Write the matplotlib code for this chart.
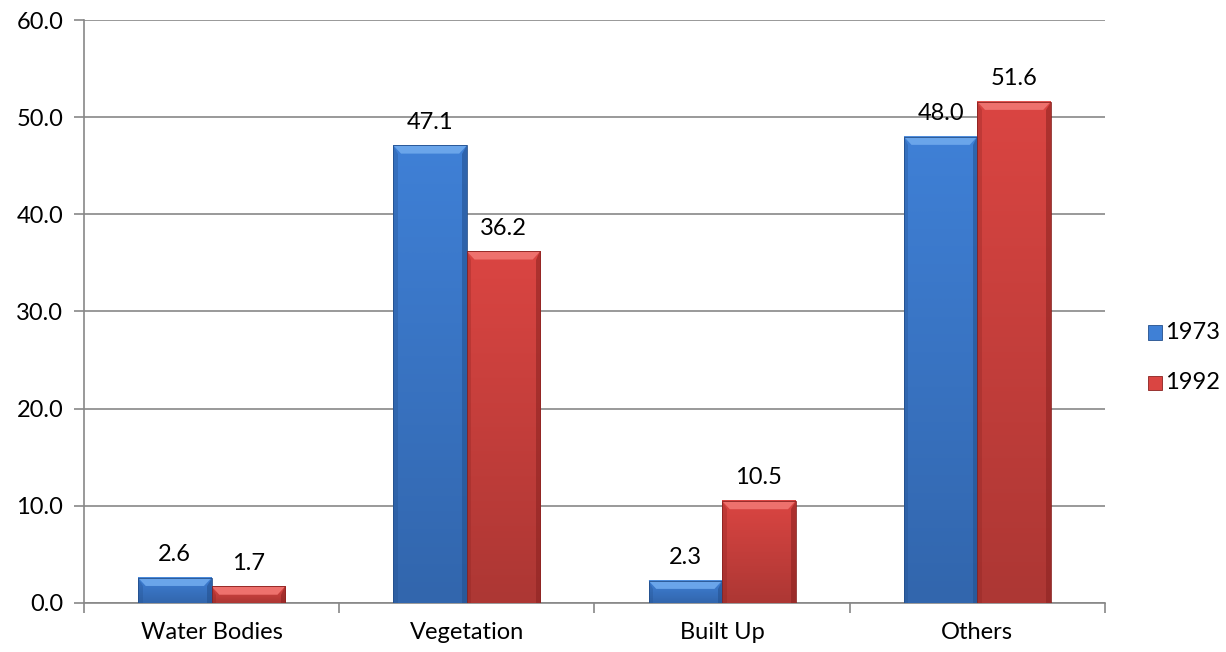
import numpy as np
import matplotlib.pyplot as plt
from matplotlib.patches import Rectangle, Polygon
from matplotlib.colors import LinearSegmentedColormap
from matplotlib.ticker import FixedLocator

plt.rcParams['font.family'] = ['Lato', 'DejaVu Sans']

categories = ['Water Bodies', 'Vegetation', 'Built Up', 'Others']
years = ['1973', '1992']
v1973 = [2.6, 47.1, 2.3, 48.0]
v1992 = [1.7, 36.2, 10.5, 51.6]

# face top, face bottom, top bevel, side shade
palette = {
    '1973': ('#3f80d6', '#3266ad', '#6aa5ea', '#234f8c'),
    '1992': ('#da4542', '#ad3734', '#ee716d', '#8a2220'),
}

fig = plt.figure(figsize=(12.26, 6.52), dpi=100)
ax = fig.add_axes([0.0685, 0.0752, 0.8328, 0.8941])

bw = 0.288
bx = 0.03    # bevel depth in x (data units)
by = 0.85    # bevel depth in y (data units)


def bevel_bar(ax, x0, h, cols):
    top, bottom, light, dark = cols
    d = min(by, h / 2)
    cmap = LinearSegmentedColormap.from_list('g', [bottom, top])
    grad = np.linspace(0, 1, 64).reshape(-1, 1)
    ax.imshow(grad, cmap=cmap, origin='lower', aspect='auto',
              extent=(x0, x0 + bw, 0, h), zorder=3, interpolation='bilinear')
    # top bevel
    ax.add_patch(Polygon([(x0, h), (x0 + bw, h), (x0 + bw - bx, h - d), (x0 + bx, h - d)],
                         closed=True, facecolor=light, edgecolor='none', zorder=4))
    # right side
    ax.add_patch(Polygon([(x0 + bw, h), (x0 + bw, 0), (x0 + bw - bx * 0.6, 0), (x0 + bw - bx * 0.6, h - d)],
                         closed=True, facecolor=dark, edgecolor='none', alpha=0.55, zorder=4))
    # left side
    ax.add_patch(Polygon([(x0, h), (x0, 0), (x0 + bx * 0.6, 0), (x0 + bx * 0.6, h - d)],
                         closed=True, facecolor=dark, edgecolor='none', alpha=0.3, zorder=4))
    ax.add_patch(Rectangle((x0, 0), bw, h, facecolor='none', edgecolor=dark, linewidth=0.6, zorder=5))


x = np.arange(len(categories))
for i in range(len(categories)):
    bevel_bar(ax, x[i] - bw, v1973[i], palette['1973'])
    bevel_bar(ax, x[i], v1992[i], palette['1992'])
    ax.annotate(f'{v1973[i]:.1f}', (x[i] - bw / 2, v1973[i]), xytext=(0, 9),
                textcoords='offset points', ha='center', va='bottom', fontsize=17)
    ax.annotate(f'{v1992[i]:.1f}', (x[i] + bw / 2, v1992[i]), xytext=(0, 9),
                textcoords='offset points', ha='center', va='bottom', fontsize=17)

ax.set_xlim(-0.5, len(categories) - 0.5)
ax.set_ylim(0, 60)
ax.set_yticks(np.arange(0, 61, 10))
ax.set_yticklabels([f'{t:.1f}' for t in np.arange(0, 61, 10)], fontsize=17)
ax.set_xticks(x)
ax.set_xticklabels(categories, fontsize=17)
ax.xaxis.set_minor_locator(FixedLocator(np.arange(-0.5, len(categories), 1)))
ax.tick_params(axis='x', which='major', length=0, pad=14)
ax.tick_params(axis='x', which='minor', length=7, color='#878787', width=1.2)
ax.tick_params(axis='y', length=7, color='#878787', width=1.2, pad=8)

ax.grid(axis='y', color='#878787', linewidth=1.2, zorder=0)
ax.set_axisbelow(True)
for s in ['top', 'right']:
    ax.spines[s].set_visible(False)
for s in ['left', 'bottom']:
    ax.spines[s].set_color('#878787')
    ax.spines[s].set_linewidth(1.2)

# legend on the right
for j, yr in enumerate(years):
    ly = 0.49 - j * 0.077
    top, bottom, light, dark = palette[yr]
    fig.patches.append(Rectangle((0.9365, ly - 0.011), 0.0115, 0.022, transform=fig.transFigure,
                                 facecolor=top, edgecolor=dark, linewidth=0.6))
    fig.text(0.950, ly, yr, fontsize=17, va='center', ha='left')

fig.savefig('out.png', dpi=100)
